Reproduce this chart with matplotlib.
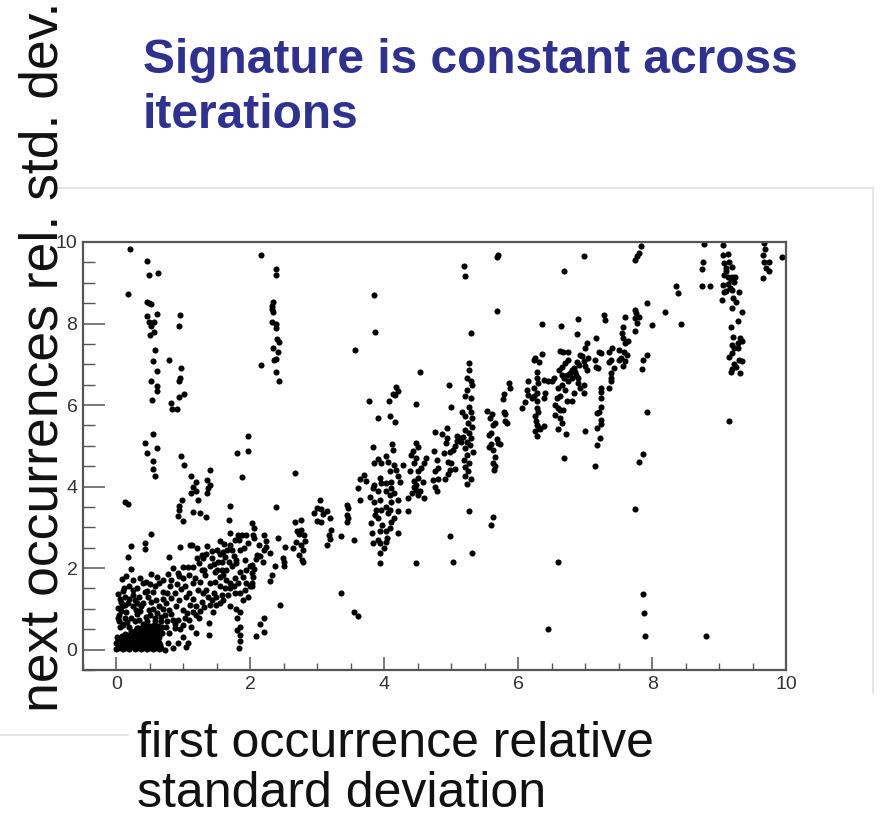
import numpy as np
import matplotlib
matplotlib.use("Agg")
import matplotlib.pyplot as plt
from matplotlib.ticker import MultipleLocator
from matplotlib.lines import Line2D

# ---------------- data ----------------
title_lines = ["Signature is constant across", "iterations"]
xlabel_lines = ["first occurrence relative", "standard deviation"]
ylabel_text = "next occurrences rel. std. dev."
xticks = [0, 2, 4, 6, 8, 10]
yticks = [0, 2, 4, 6, 8, 10]

# dense cluster near the origin
blob = [
    (0.00, 0.02), (0.04, 0.05), (0.09, 0.01), (0.13, 0.04), (0.18, 0.02), (0.22, 0.06), (0.27, 0.01),
    (0.31, 0.04), (0.36, 0.02), (0.40, 0.05), (0.45, 0.01), (0.49, 0.04), (0.54, 0.02), (0.58, 0.05),
    (0.63, 0.01), (0.67, 0.03), (0.02, 0.11), (0.06, 0.09), (0.11, 0.12), (0.15, 0.08), (0.20, 0.11),
    (0.24, 0.09), (0.29, 0.12), (0.33, 0.08), (0.38, 0.11), (0.42, 0.09), (0.47, 0.12), (0.51, 0.08),
    (0.56, 0.11), (0.60, 0.09), (0.65, 0.12), (0.00, 0.17), (0.05, 0.19), (0.09, 0.16), (0.14, 0.18),
    (0.18, 0.15), (0.23, 0.19), (0.27, 0.16), (0.32, 0.18), (0.36, 0.15), (0.41, 0.19), (0.45, 0.16),
    (0.50, 0.18), (0.54, 0.15), (0.59, 0.19), (0.63, 0.16), (0.02, 0.24), (0.07, 0.26), (0.12, 0.23),
    (0.17, 0.25), (0.21, 0.22), (0.26, 0.26), (0.30, 0.23), (0.35, 0.25), (0.39, 0.22), (0.44, 0.26),
    (0.48, 0.23), (0.53, 0.25), (0.57, 0.22), (0.62, 0.26), (0.01, 0.31), (0.08, 0.33), (0.14, 0.30),
    (0.20, 0.32), (0.25, 0.29), (0.31, 0.33), (0.36, 0.30), (0.42, 0.32), (0.47, 0.29), (0.53, 0.33),
    (0.58, 0.30), (0.63, 0.32), (0.12, 0.39), (0.19, 0.37), (0.26, 0.40), (0.32, 0.37), (0.38, 0.39),
    (0.44, 0.36), (0.50, 0.40), (0.56, 0.37), (0.62, 0.39), (0.22, 0.45), (0.29, 0.47), (0.35, 0.44),
    (0.41, 0.46), (0.47, 0.43), (0.53, 0.47), (0.59, 0.44), (0.65, 0.46), (0.30, 0.52), (0.37, 0.54),
    (0.43, 0.51), (0.49, 0.53), (0.55, 0.50), (0.61, 0.53), (0.44, 0.59), (0.50, 0.57), (0.56, 0.60),
    (0.62, 0.58), (0.68, 0.55),
]

# fan of points x 0-1.4, y 0-2
fan = [
    (0.03, 1.37), (0.04, 0.85), (0.02, 1.01), (0.07, 1.18), (0.12, 1.30), (0.19, 1.55), (0.17, 1.14),
    (0.24, 1.46), (0.27, 1.22), (0.14, 0.93), (0.22, 0.77), (0.29, 0.97), (0.34, 1.30), (0.39, 1.63),
    (0.44, 1.67), (0.42, 1.42), (0.47, 1.30), (0.54, 1.42), (0.52, 1.18), (0.59, 1.22), (0.64, 1.06),
    (0.69, 1.42), (0.75, 1.40), (0.74, 1.14), (0.80, 1.55), (0.82, 1.26), (0.87, 1.38), (0.79, 0.97),
    (0.72, 0.85), (0.89, 1.06), (0.94, 1.22), (0.99, 0.97), (1.04, 1.30), (1.02, 0.77), (0.92, 0.73),
    (1.09, 0.73), (1.14, 0.93), (1.12, 0.56), (0.87, 0.52), (0.79, 0.40), (0.99, 0.32), (1.07, 0.16),
    (0.92, 0.16), (0.77, 0.16), (0.84, 0.03), (1.04, 0.07), (0.72, -0.01), (1.19, 0.40), (1.24, 0.77),
    (1.19, 1.06), (1.27, 1.18), (1.22, 1.46), (1.29, 1.38), (1.14, 1.63), (0.99, 1.75), (1.09, 1.83),
    (0.92, 1.87), (0.82, 1.71), (0.64, 1.63), (0.52, 1.86), (0.60, 1.78), (0.12, 0.77), (0.09, 0.61),
    (0.34, 0.73), (0.44, 0.81), (0.57, 0.77), (0.49, 0.97), (0.37, 1.06), (0.24, 1.06), (0.08, 1.06),
    (0.04, 0.69), (0.19, 0.56), (0.32, 0.52), (0.63, 0.56), (0.67, 0.69), (0.84, 0.73), (0.68, 0.40),
    (0.64, 0.16), (0.55, 0.09), (1.19, 0.85), (0.08, 1.73), (0.14, 1.80), (0.21, 1.98), (0.17, 2.27),
    (0.22, 2.55), (0.43, 2.62), (0.42, 2.47), (0.52, 2.84), (0.78, 2.26), (0.13, 3.63), (0.17, 3.57),
    (0.11, 1.52), (0.31, 0.88), (0.57, 1.55), (0.70, 1.25), (0.96, 1.48),
    (0.05, 0.55), (0.10, 0.62), (0.02, 0.78), (0.07, 0.95), (0.13, 1.10), (0.18, 1.25), (0.05, 1.25),
    (0.10, 1.45), (0.25, 1.35), (0.30, 1.15), (0.35, 0.95), (0.28, 0.70), (0.40, 0.62), (0.45, 0.70),
    (0.50, 0.85), (0.55, 1.00), (0.60, 0.90), (0.66, 0.80), (0.70, 1.00), (0.76, 0.70), (0.82, 0.88),
    (0.88, 0.62), (0.95, 0.50), (1.00, 0.60), (1.05, 0.90), (1.10, 1.10), (1.15, 1.25), (0.40, 1.15),
    (0.45, 1.45), (0.50, 1.60), (0.30, 1.50), (0.35, 1.75), (0.25, 1.70), (0.70, 1.70), (0.77, 1.85),
    (0.85, 2.00), (0.90, 1.60), (1.03, 1.55), (1.08, 1.40), (0.15, 0.68), (0.58, 0.70), (0.74, 0.55),
]

# main band x 0.9-2.3, y 0-4
band_low = [
    (0.94, 3.53), (0.93, 3.42), (0.92, 3.29), (0.98, 3.68), (1.00, 3.15), (1.14, 3.37), (1.25, 3.35),
    (1.22, 3.66), (1.12, 3.84), (1.14, 3.99), (1.19, 3.89), (1.35, 3.84), (1.37, 3.97), (1.33, 3.25),
    (1.69, 3.52), (1.68, 3.19), (0.95, 2.51), (1.10, 2.57), (1.13, 2.57), (1.21, 2.49), (1.28, 2.33),
    (1.33, 2.35), (1.42, 2.43), (1.54, 2.66), (0.99, 2.02), (1.07, 2.02), (1.14, 2.02), (0.94, 1.80),
    (1.37, 1.30), (1.42, 1.22), (1.49, 1.30), (1.54, 1.14), (1.59, 1.22), (1.49, 1.10), (1.39, 1.10),
    (1.34, 1.46), (1.39, 1.63), (1.47, 1.67), (1.54, 1.79), (1.47, 1.91), (1.39, 2.04), (1.32, 1.83),
    (1.27, 1.96), (1.24, 2.12), (1.29, 2.24), (1.42, 2.24), (1.52, 2.16), (1.59, 1.83), (1.64, 1.71),
    (1.69, 1.63), (1.77, 1.75), (1.82, 1.63), (1.89, 1.79), (1.84, 1.91), (1.94, 1.96), (1.99, 2.04),
    (1.72, 2.04), (1.64, 1.96), (1.79, 2.12), (1.68, 2.16), (1.58, 2.16), (1.62, 2.28), (1.72, 2.45),
    (1.59, 2.40), (1.69, 2.57), (1.77, 2.69), (1.83, 2.69), (1.81, 2.81), (1.88, 2.81), (1.94, 2.81),
    (1.94, 1.63), (1.99, 1.55), (1.92, 1.46), (1.84, 1.38), (1.77, 1.38), (1.69, 1.51), (1.62, 1.51),
    (1.54, 1.55), (1.69, 1.06), (1.79, 0.99), (1.84, 0.93), (1.89, 1.22), (1.97, 1.30), (1.80, 0.77),
    (1.84, 0.56), (1.80, 0.47), (1.84, 0.36), (1.85, 0.20), (1.83, 0.03), (1.38, 0.65), (1.38, 0.36),
    (1.44, 0.93), (1.60, 2.60), (1.75, 2.30), (1.90, 2.50), (1.50, 1.95), (1.66, 1.35),
    (1.18, 1.75), (1.25, 1.65), (1.30, 1.95), (1.20, 2.25), (1.35, 2.55), (1.45, 2.10), (1.50, 2.45),
    (1.55, 2.35), (1.65, 2.45), (1.78, 2.20), (1.85, 2.45), (1.92, 2.20), (1.96, 2.62), (1.70, 2.85),
    (1.57, 1.95), (1.75, 1.55), (1.45, 1.40), (1.30, 1.05), (1.25, 0.95), (1.57, 1.35),
]

# upper-left vertical streaks
streaks_left = [
    (0.20, 9.82), (0.45, 9.53), (0.48, 9.19), (0.62, 9.23), (0.17, 8.73), (0.45, 8.52), (0.48, 8.50),
    (0.51, 8.48), (0.60, 8.24), (0.45, 8.18), (0.95, 8.20), (0.49, 8.04), (0.56, 8.04), (0.52, 7.94),
    (0.94, 7.94), (0.56, 7.80), (0.50, 7.71), (0.57, 7.35), (0.55, 7.07), (0.79, 7.10), (0.97, 6.91),
    (0.61, 6.83), (0.95, 6.66), (0.93, 6.58), (0.52, 6.60), (0.60, 6.47), (0.60, 6.34), (1.01, 6.27),
    (0.94, 6.20), (0.53, 6.13), (0.82, 6.04), (0.83, 5.90), (0.91, 5.90), (0.54, 5.28), (0.42, 5.07),
    (0.61, 4.94), (0.45, 4.83), (0.96, 4.75), (0.55, 4.63), (1.01, 4.54), (0.54, 4.42), (1.39, 4.41),
    (0.58, 4.26), (1.12, 4.26), (1.19, 4.10), (1.35, 4.17), (1.40, 4.03), (1.96, 5.25), (1.80, 4.83),
    (1.96, 4.87), (1.88, 4.24),
]

# x 2-4, upper part
mid_upper = [
    (2.16, 9.69), (2.38, 9.33), (2.39, 9.19), (2.34, 8.52), (2.33, 8.43), (2.33, 8.35), (2.34, 8.29),
    (2.32, 8.04), (2.39, 7.98), (2.38, 7.90), (2.40, 7.62), (2.42, 7.54), (2.34, 7.39), (2.41, 7.31),
    (2.38, 7.12), (2.35, 7.10), (2.16, 6.99), (2.39, 6.82), (2.42, 6.60), (3.84, 8.70), (3.86, 7.79),
    (3.56, 7.36), (3.77, 6.09), (3.91, 5.67), (3.83, 4.98), (3.90, 4.67), (3.95, 4.57), (3.84, 4.57),
    (2.66, 4.34), (3.70, 4.29), (3.63, 4.18), (3.73, 4.14), (3.85, 4.04), (3.93, 4.20), (3.95, 4.08),
]

# x 2-4, lower part
mid_lower = [
    (3.60, 3.96), (3.78, 3.75), (3.83, 3.96), (3.90, 3.88), (3.93, 3.67), (3.85, 3.63), (3.88, 3.43),
    (3.95, 3.43), (3.90, 3.22), (3.96, 3.06), (3.93, 2.90), (3.90, 2.69), (3.83, 2.61), (3.94, 2.61),
    (3.94, 2.38), (3.94, 2.12), (3.63, 3.67), (3.44, 3.55), (3.46, 3.47), (3.45, 3.30), (3.46, 3.22),
    (3.44, 3.12), (3.36, 2.79), (3.55, 2.69), (3.36, 1.40), (3.55, 0.93), (3.60, 0.83), (3.04, 3.67),
    (2.95, 3.35), (3.00, 3.48), (3.05, 3.44), (3.09, 3.33), (3.15, 3.39), (3.19, 3.23), (2.99, 3.16),
    (3.05, 3.12), (3.20, 2.94), (3.18, 2.81), (3.19, 2.71), (3.15, 2.57), (2.66, 3.12), (2.75, 3.17),
    (2.76, 2.94), (2.72, 2.84), (2.80, 2.82), (2.68, 2.65), (2.75, 2.57), (2.63, 2.49), (2.82, 2.67),
    (2.78, 2.45), (2.73, 2.32), (2.77, 2.20), (2.78, 2.14), (2.70, 2.90), (2.38, 3.49), (2.41, 2.73),
    (2.52, 2.51), (2.48, 2.24), (2.50, 2.14), (2.50, 2.05), (2.37, 2.04), (2.33, 1.83), (2.29, 1.69),
    (2.44, 1.09), (2.20, 0.77), (2.15, 0.62), (2.20, 0.42), (2.08, 0.34), (2.03, 3.10), (2.06, 2.98),
    (2.04, 2.81), (2.05, 2.73), (2.13, 2.57), (2.20, 2.80), (2.23, 2.66), (2.24, 2.51), (2.20, 2.45),
    (2.30, 2.37), (2.10, 2.33), (2.15, 2.29), (2.08, 2.22), (2.19, 2.16), (2.03, 2.08), (2.06, 1.99),
    (2.02, 1.87), (2.04, 1.79), (2.03, 1.63), (2.02, 1.55), (3.80, 3.10), (3.86, 3.30), (3.81, 2.85),
]

# x 4-6
right_mid = [
    (5.68, 9.62), (5.70, 9.67), (5.19, 9.40), (5.21, 9.17), (5.68, 8.31), (5.30, 7.76), (4.53, 6.80),
    (5.26, 7.04), (5.26, 6.85), (5.23, 6.66), (5.29, 6.59), (5.31, 6.49), (5.23, 6.37), (5.20, 6.22),
    (5.29, 6.18), (4.18, 6.45), (4.21, 6.35), (4.13, 6.27), (4.16, 6.24), (4.07, 6.09), (4.47, 6.03),
    (4.96, 6.48), (4.09, 5.74), (4.16, 5.59), (5.00, 5.96), (5.86, 6.55), (5.88, 6.41), (5.79, 6.27),
    (5.78, 6.15), (5.79, 5.82), (5.81, 5.79), (5.80, 5.60), (5.83, 5.56), (5.53, 5.86), (5.61, 5.78),
    (5.58, 5.67), (5.66, 5.55), (5.63, 5.51), (5.59, 5.31), (5.56, 5.27), (5.68, 5.17), (5.70, 5.06),
    (5.73, 5.04), (5.59, 5.04), (5.56, 4.96), (5.63, 4.90), (5.65, 4.73), (5.62, 4.57), (5.65, 4.51),
    (5.64, 4.40), (5.26, 5.95), (5.29, 5.82), (5.16, 5.84), (5.20, 5.72), (5.31, 5.68), (5.25, 5.55),
    (5.31, 5.47), (5.20, 5.39), (5.26, 5.31), (5.18, 5.22), (5.30, 5.19), (5.23, 5.10), (5.15, 5.10),
    (5.28, 5.01), (5.33, 4.86), (5.20, 4.94), (5.23, 4.77), (5.19, 4.65), (5.27, 4.57), (5.20, 4.47),
    (5.25, 4.37), (5.20, 4.25), (5.30, 4.19), (5.23, 4.06), (4.76, 5.33), (4.86, 5.28), (4.93, 5.19),
    (4.92, 5.06), (4.94, 5.44), (5.08, 5.24), (5.09, 5.11), (5.05, 5.00), (5.03, 4.89), (5.11, 5.19),
    (4.98, 4.85), (4.89, 4.83), (4.95, 4.61), (5.00, 4.57), (4.98, 4.40), (5.05, 4.43), (4.95, 4.30),
    (4.90, 4.19), (4.74, 4.88), (4.78, 4.65), (4.80, 4.45), (4.75, 4.37), (4.80, 4.19), (4.73, 4.16),
    (4.63, 4.70), (4.60, 4.57), (4.55, 4.45), (4.50, 4.37), (4.48, 5.06), (4.50, 4.96), (4.43, 4.88),
    (4.40, 4.78), (4.48, 4.70), (4.45, 4.57), (4.39, 4.38), (4.50, 4.22), (4.58, 4.12), (4.45, 4.14),
    (4.48, 4.04), (4.44, 4.00), (4.11, 5.04), (4.13, 4.90), (4.03, 4.74), (4.05, 4.61), (4.15, 4.53),
    (4.18, 4.41), (4.08, 4.37), (4.20, 4.25), (4.28, 4.53), (4.23, 4.12), (4.10, 4.12), (4.03, 4.08),
    (4.10, 3.96), (4.15, 3.84), (4.08, 3.80), (4.03, 3.88), (4.20, 3.67), (4.10, 3.63), (4.03, 3.51),
    (4.08, 3.43), (4.20, 3.39), (4.05, 3.35), (4.15, 3.22), (4.10, 3.14), (4.08, 2.98), (4.03, 2.90),
    (4.20, 2.86), (4.04, 2.73), (4.02, 2.65), (4.00, 2.49), (4.35, 3.71), (4.41, 3.84), (4.48, 3.92),
    (4.50, 3.80), (4.54, 3.88), (4.59, 3.71), (4.78, 3.88), (4.75, 4.00), (4.36, 3.40), (5.26, 3.40),
    (5.63, 3.25), (5.59, 3.06), (4.98, 2.79), (4.47, 2.12), (5.02, 2.15), (5.31, 2.36),
]

# x 6-8
right_hi = [
    (7.83, 9.89), (7.81, 9.73), (7.78, 9.65), (7.75, 9.56), (6.98, 9.65), (6.68, 9.28), (7.93, 8.50),
    (6.35, 7.99), (6.64, 7.95), (6.89, 8.11), (7.28, 8.21), (7.30, 8.09), (7.75, 8.34), (7.76, 8.25),
    (7.75, 8.13), (7.80, 8.15), (7.78, 8.01), (7.74, 7.82), (8.00, 7.97), (7.59, 8.15), (7.56, 7.91),
    (7.55, 7.77), (7.56, 7.64), (7.60, 7.52), (7.64, 7.56), (6.88, 7.75), (7.16, 7.65), (7.03, 7.51),
    (7.00, 7.39), (6.93, 7.23), (6.96, 7.21), (7.04, 7.16), (6.35, 7.25), (6.23, 7.11), (6.25, 7.16),
    (6.31, 7.05), (6.62, 7.33), (6.67, 7.31), (6.75, 7.31), (6.74, 7.11), (6.70, 7.03), (6.65, 6.94),
    (6.61, 6.86), (6.83, 6.92), (6.88, 7.05), (6.91, 6.99), (6.98, 7.07), (7.00, 6.97), (7.03, 6.86),
    (7.14, 7.11), (7.20, 7.31), (7.23, 7.27), (7.35, 7.31), (7.40, 7.39), (7.50, 7.35), (7.58, 7.31),
    (7.63, 7.23), (7.38, 7.11), (7.36, 7.05), (7.50, 7.11), (7.53, 7.15), (7.59, 7.08), (7.56, 6.97),
    (7.43, 6.90), (7.39, 6.78), (7.38, 6.66), (7.39, 6.59), (7.36, 6.41), (7.24, 6.41), (7.23, 6.33),
    (7.23, 6.17), (7.23, 5.96), (7.20, 5.84), (7.18, 5.80), (7.24, 5.64), (7.23, 5.54), (7.18, 5.43),
    (7.22, 5.20), (7.18, 5.01), (7.15, 4.51), (7.00, 5.37), (7.16, 6.94), (7.19, 6.91),
    (6.14, 6.59), (6.23, 6.41), (6.13, 6.37), (6.15, 6.25), (6.23, 6.23), (6.28, 6.29), (6.20, 6.17),
    (6.28, 6.09), (6.10, 6.07), (6.05, 5.92), (6.28, 5.92), (6.30, 5.84), (6.25, 5.72), (6.26, 5.60),
    (6.28, 5.51), (6.25, 5.37), (6.28, 5.23), (6.31, 5.43), (6.39, 5.49), (6.33, 5.41), (6.38, 6.62),
    (6.45, 6.58), (6.50, 6.58), (6.54, 6.66), (6.28, 6.67), (6.28, 6.82), (6.30, 6.54), (6.40, 6.29),
    (6.38, 6.17), (6.55, 6.00), (6.58, 6.17), (6.63, 6.21), (6.60, 6.41), (6.65, 6.49), (6.68, 6.66),
    (6.73, 6.74), (6.65, 6.74), (6.75, 6.58), (6.80, 6.66), (6.78, 6.78), (6.81, 6.86), (6.85, 6.82),
    (6.86, 6.74), (6.90, 6.66), (6.89, 6.54), (6.93, 6.41), (6.98, 6.49), (6.99, 6.29), (6.83, 6.29),
    (6.80, 6.09), (6.70, 6.37), (6.73, 6.09), (6.67, 5.88), (6.63, 5.88), (6.59, 5.92), (6.55, 5.76),
    (6.63, 5.68), (6.66, 5.55), (6.60, 5.41), (6.72, 5.28), (6.69, 4.71), (7.86, 7.11), (7.85, 6.89),
    (7.93, 7.23), (7.92, 5.84), (7.86, 4.80), (7.80, 4.61), (7.75, 3.44), (6.60, 2.16), (7.87, 1.36),
    (7.88, 0.89), (7.89, 0.34), (6.45, 0.50),
]

# x 8-10
far_right = [
    (8.78, 9.95), (9.06, 9.92), (9.67, 9.97), (9.68, 9.83), (9.65, 9.68), (9.67, 9.52), (9.74, 9.50),
    (9.70, 9.36), (9.74, 9.28), (9.65, 9.11), (9.94, 9.62), (8.76, 9.52), (8.75, 9.34), (9.06, 9.69),
    (9.13, 9.70), (9.07, 9.48), (9.15, 9.52), (9.19, 9.39), (9.10, 9.36), (9.11, 9.28), (9.08, 9.19),
    (9.14, 9.13), (9.20, 9.15), (9.24, 9.13), (9.18, 9.07), (9.23, 9.03), (9.13, 8.96), (9.06, 8.95),
    (9.16, 8.87), (9.20, 8.83), (9.10, 8.80), (9.07, 8.77), (9.30, 8.77), (9.21, 8.62), (9.26, 8.52),
    (9.05, 8.58), (9.20, 8.39), (9.34, 8.29), (9.28, 8.05), (9.18, 7.91), (8.75, 8.93), (8.86, 8.92),
    (8.35, 8.92), (8.38, 8.74), (8.20, 8.29), (8.43, 7.99), (9.21, 7.66), (9.31, 7.64),
    (9.34, 7.57), (9.28, 7.52), (9.20, 7.48), (9.23, 7.40), (9.29, 7.40), (9.19, 7.27), (9.15, 7.19),
    (9.30, 7.11), (9.34, 7.07), (9.23, 7.00), (9.20, 6.89), (9.18, 6.81), (9.31, 6.78), (9.25, 6.94),
    (9.15, 5.62), (8.80, 0.34),
]

groups = [blob, fan, band_low, streaks_left, mid_upper, mid_lower, right_mid, right_hi, far_right]
pts = np.array([p for g in groups for p in g])

# ---------------- drawing ----------------
W, H = 882, 819
fig = plt.figure(figsize=(W / 100, H / 100), dpi=100)
fig.patch.set_facecolor("white")

FONT = ["Liberation Sans", "DejaVu Sans"]

ax = fig.add_axes([83 / W, 1 - 670 / H, (786 - 83) / W, (670 - 242) / H])
ax.plot(pts[:, 0], pts[:, 1], "o", ms=4.4, mew=0, color="black")

ax.set_xlim(-0.5, 10)
ax.set_ylim(-0.5, 10)
ax.set_xticks(xticks)
ax.set_yticks(yticks)
ax.set_xticklabels([str(t) for t in xticks], family=FONT)
ax.set_yticklabels([str(t) for t in yticks], family=FONT)
ax.xaxis.set_minor_locator(MultipleLocator(0.5))
ax.yaxis.set_minor_locator(MultipleLocator(0.5))

ax.tick_params(axis="x", which="major", direction="in", length=9.5, width=1.1,
               color="#555555", pad=4, labelsize=14, labelcolor="#333333")
ax.tick_params(axis="x", which="minor", direction="in", length=5, width=1.0, color="#555555")
ax.tick_params(axis="y", which="major", direction="in", length=16, width=1.1,
               color="#555555", pad=4, labelsize=14, labelcolor="#333333")
ax.tick_params(axis="y", which="minor", direction="in", length=8.5, width=1.0, color="#555555")
ax.tick_params(top=False, right=False, which="both")
for s in ax.spines.values():
    s.set_linewidth(1.6)
    s.set_color("#555555")

# titles / labels as slide text
fig.text(143 / W, 1 - 73 / H, title_lines[0], fontsize=34.5, weight="bold",
         color="#2e3192", family=FONT, ha="left", va="baseline")
fig.text(143 / W, 1 - 128 / H, title_lines[1], fontsize=34.5, weight="bold",
         color="#2e3192", family=FONT, ha="left", va="baseline")

fig.text(137 / W, 1 - 757 / H, xlabel_lines[0], fontsize=36, color="#111111",
         family=FONT, ha="left", va="baseline")
fig.text(137 / W, 1 - 807 / H, xlabel_lines[1], fontsize=36, color="#111111",
         family=FONT, ha="left", va="baseline")

fig.text(57 / W, 1 - 712 / H, ylabel_text, fontsize=38.5, color="#111111", family=FONT,
         rotation=90, rotation_mode="anchor", ha="left", va="baseline")

# faint slide frame lines
lc = "#e2e2e2"
fig.add_artist(Line2D([57 / W, 873 / W], [1 - 188 / H, 1 - 188 / H], color=lc, lw=1.2))
fig.add_artist(Line2D([873 / W, 873 / W], [1 - 188 / H, 1 - 693 / H], color=lc, lw=1.2))
fig.add_artist(Line2D([0, 128 / W], [1 - 735 / H, 1 - 735 / H], color=lc, lw=1.2))

fig.savefig("out.png", dpi=100, facecolor="white")
